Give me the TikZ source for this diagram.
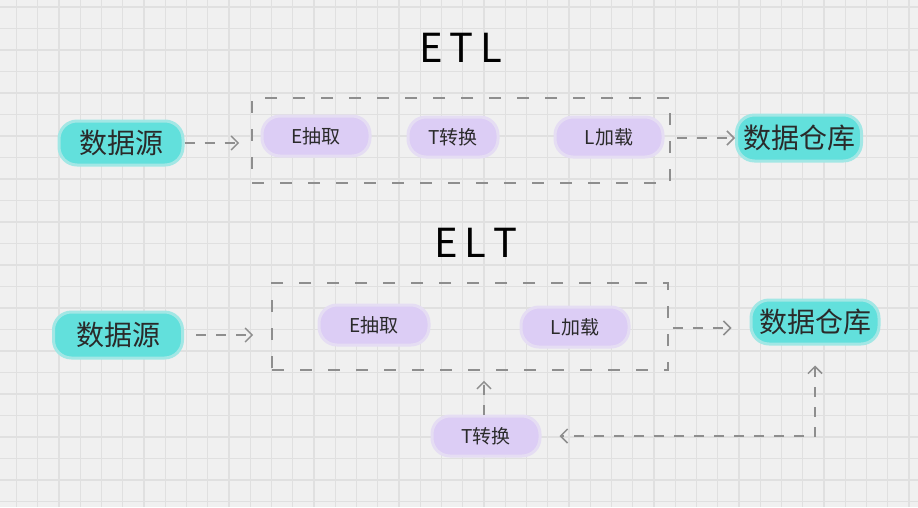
\documentclass[tikz,border=0pt]{standalone}
\usepackage{fontspec}
\newfontfamily\cjk{Noto Sans CJK SC}
\usetikzlibrary{arrows.meta,calc}
\definecolor{bgc}{HTML}{F0F0F0}
\definecolor{gridc}{HTML}{E0E0E0}
\definecolor{cyanb}{HTML}{62E0DC}
\definecolor{purpb}{HTML}{DCCDF5}
\definecolor{dashc}{HTML}{8E8E8E}
\definecolor{txtc}{HTML}{2A2A2A}
\tikzset{
  x=1pt,y=1pt,
  blob/.style={rounded corners=18pt, inner sep=0pt, text=txtc},
  cyanblob/.style={blob, fill=cyanb, draw=cyanb!55!bgc, line width=3pt, minimum height=44pt, font=\cjk\fontsize{28}{28}\selectfont},
  purpblob/.style={blob, fill=purpb, draw=purpb!55!bgc, line width=3pt, minimum height=40pt, minimum width=108pt, font=\cjk\fontsize{19}{19}\selectfont},
  dashbox/.style={draw=dashc, line width=1.6pt, dash pattern=on 12pt off 16pt, inner sep=0pt},
  tip/.style={},
  dasharrow/.style={draw=dashc, line width=1.5pt, dash pattern=on 10pt off 10pt, -{Straight Barb[length=7pt,width=14pt,line width=1.5pt]}},
  titlef/.style={font=\cjk\fontsize{40}{40}\selectfont, text=black}
}
\begin{document}
\begin{tikzpicture}
\useasboundingbox (0,0) rectangle (918,-507);
\fill[bgc] (0,0) rectangle (918,-507);
\foreach \i in {0,...,43} {\draw[gridc, line width=1.3pt] (16.5+\i*21.25,0) -- (16.5+\i*21.25,-507);}
\foreach \j in {0,...,23} {\draw[gridc, line width=1.3pt] (0,-7-\j*21.5) -- (918,-7-\j*21.5);}

% titles
\node[titlef] (t1) at (461,-48) {E\,T\,L};
\node[titlef] (t2) at (476,-243) {E\,L\,T};

% ETL row
\node[dashbox, minimum width=418pt, minimum height=85pt] (box1) at (461,-140.5) {};
\node[cyanblob, minimum width=124pt] (src1) at (121,-143) {数据源};
\node[purpblob] (e1) at (316,-136) {E抽取};
\node[purpblob, minimum width=90pt] (tr1) at (453,-137) {T转换};
\node[purpblob] (l1) at (609,-137) {L加载};
\node[cyanblob, minimum width=125pt, minimum height=46pt] (dw1) at (799,-138) {数据仓库};
\draw[dasharrow, shorten <=0pt, shorten >=12pt] (src1.east) -- (src1.east -| box1.west);
\draw[dasharrow, shorten <=6pt, shorten >=0pt] (box1.east |- dw1.west) -- (dw1.west);

% ELT row
\node[dashbox, minimum width=396pt, minimum height=87pt] (box2) at (470,-326.5) {};
\node[cyanblob, minimum width=129pt, minimum height=46pt] (src2) at (118,-335) {数据源};
\node[purpblob, minimum width=110pt] (e2) at (374,-325) {E抽取};
\node[purpblob, minimum width=108pt] (l2) at (575,-327) {L加载};
\node[cyanblob, minimum width=128pt, minimum height=44pt] (dw2) at (815,-322) {数据仓库};
\node[purpblob, minimum width=108pt] (tr2) at (486,-436) {T转换};
\draw[dasharrow, shorten <=12pt, shorten >=18pt] (src2.east) -- (src2.east -| box2.west);
\draw[dasharrow, shorten <=4pt, shorten >=18pt] (box2.east |- 0,-328) -- (dw2.west |- 0,-328);
\coordinate (tn) at (484,-415);
\draw[dasharrow, shorten >=10pt] (tn) -- (tn |- box2.south);
\draw[dasharrow, {Straight Barb[length=7pt,width=14pt,line width=1.5pt]}-{Straight Barb[length=7pt,width=14pt,line width=1.5pt]}, shorten <=20pt, shorten >=18pt] (dw2.south) |- (tr2.east);
\end{tikzpicture}
\end{document}
